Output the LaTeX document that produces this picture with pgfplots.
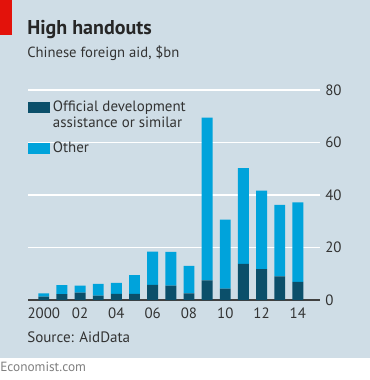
\documentclass[border=0pt]{standalone}
\usepackage{pgfplots}
\pgfplotsset{compat=1.18}
\usepackage{fontspec}
\setmainfont{PT Sans}
\definecolor{bgpanel}{HTML}{CFDDE6}
\definecolor{darkbar}{HTML}{0B4F6A}
\definecolor{lightbar}{HTML}{00A3DB}
\definecolor{ecored}{HTML}{E3120B}
\pgfplotstableread{
year oda other
2000 1.3 1.2
2001 2.2 3.5
2002 2.8 2.7
2003 1.7 4.4
2004 2.3 4.2
2005 2.3 7.2
2006 5.8 12.6
2007 5.5 12.8
2008 2.5 10.5
2009 7.5 62.0
2010 4.3 26.3
2011 13.8 36.4
2012 11.8 29.9
2013 9.0 27.2
2014 6.9 30.3
}\aid
\begin{document}
\begin{tikzpicture}
\def\u{0.75pt}
\fill[white] (0,0) rectangle (370*\u,380*\u);
\fill[bgpanel] (0,22.3*\u) rectangle (370*\u,380*\u);
\fill[ecored] (0,345*\u) rectangle (12*\u,380*\u);
\node[anchor=base west,inner sep=0,font=\bfseries\fontsize{15}{17}\selectfont,text=black!85] at (27*\u,346*\u) {High handouts};
\node[anchor=base west,inner sep=0,font=\fontsize{11}{13}\selectfont,text=black!80] at (27*\u,323*\u) {Chinese foreign aid, \$bn};
\node[anchor=base west,inner sep=0,font=\fontsize{11.3}{13}\selectfont,text=black!80] at (27*\u,37*\u) {Source: AidData};
\node[anchor=base west,inner sep=0,font=\fontsize{10}{12}\selectfont,text=black!50] at (0,8*\u) {Economist.com};
\begin{axis}[
  at={(28*\u,80*\u)}, anchor=south west,
  scale only axis, width=219pt, height=157.5pt,
  xmin=1999.13, xmax=2015.22, ymin=0, ymax=80,
  ybar stacked, bar width=0.6,
  axis x line*=bottom, axis y line*=right,
  y axis line style={draw=none},
  x axis line style={draw=black!75, line width=0.8pt},
  ymajorgrids, grid style={white, line width=1pt},
  ytick={20,40,60,80},
  extra y ticks={0}, extra y tick style={grid=none},
  xtick={2000,2002,...,2014},
  xticklabels={2000,02,04,06,08,10,12,14},
  major tick length=0pt,
  /pgf/number format/assume math mode=true,
  tick label style={font=\fontsize{11.2}{13}\selectfont, text=black!80},
  xticklabel style={anchor=north, inner sep=0pt, yshift=-6pt},
  yticklabel style={anchor=west, inner sep=0pt, xshift=3.75pt},
  legend style={at={(0,0.96)}, anchor=north west, draw=none, fill=none,
    inner sep=0pt, font=\fontsize{11.2}{11.5}\selectfont, text=black!80,
    cells={align=left}, row sep=5.5pt},
  legend cell align=left,
  legend image code/.code={\fill[#1] (0pt,-4.1pt) rectangle (16.5pt,4.1pt);},
]
\addplot[fill=darkbar, draw=none,
  legend image code/.code={\fill[##1] (0pt,1.6pt) rectangle (16.5pt,9.9pt);}]
  table[x=year,y=oda] {\aid};
\addlegendentry{Official development\\assistance or similar}
\addplot[fill=lightbar, draw=none] table[x=year,y=other] {\aid};
\addlegendentry{Other}
\end{axis}
\end{tikzpicture}
\end{document}
